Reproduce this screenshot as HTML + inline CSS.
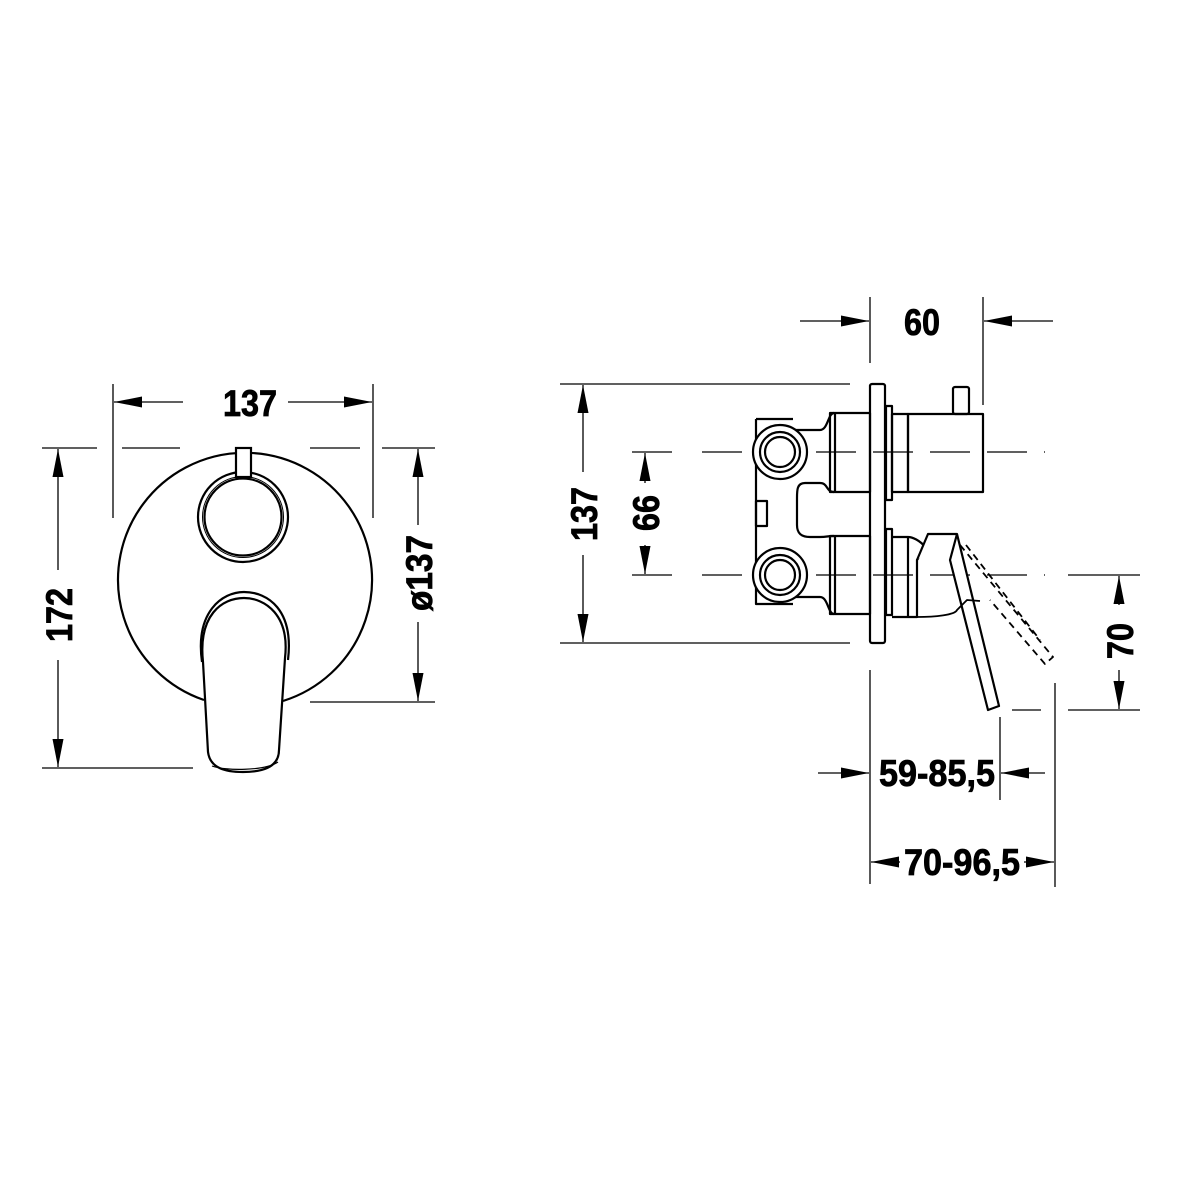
<!DOCTYPE html>
<html><head><meta charset="utf-8"><style>
html,body{margin:0;padding:0;background:#fff}
svg{display:block}
text{font-family:"Liberation Sans",sans-serif;font-weight:bold;fill:#000;stroke:#000;stroke-width:0.8}
</style></head><body>
<svg width="1200" height="1200" viewBox="0 0 1200 1200" xmlns="http://www.w3.org/2000/svg">
<defs>
<marker id="a" viewBox="0 0 28 12" refX="28" refY="6" markerWidth="28" markerHeight="12" markerUnits="userSpaceOnUse" orient="auto-start-reverse"><path d="M0,0.5 L28,6 L0,11.5z" fill="#000"/></marker>
</defs>
<g fill="none" stroke="#000" stroke-width="1.3">
<line x1="113" y1="384" x2="113" y2="518"/>
<line x1="373" y1="384" x2="373" y2="518"/>
<line x1="183" y1="402" x2="114" y2="402" marker-end="url(#a)"/>
<line x1="288" y1="402" x2="372" y2="402" marker-end="url(#a)"/>
<line x1="42" y1="448" x2="97" y2="448"/>
<line x1="122" y1="448" x2="180" y2="448"/>
<line x1="310" y1="448" x2="360" y2="448"/>
<line x1="382" y1="448" x2="435" y2="448"/>
<line x1="42" y1="768" x2="193" y2="768"/>
<line x1="310" y1="702" x2="435" y2="702"/>
<line x1="58" y1="570" x2="58" y2="449" marker-end="url(#a)"/>
<line x1="58" y1="660" x2="58" y2="767" marker-end="url(#a)"/>
<line x1="418" y1="525" x2="418" y2="449" marker-end="url(#a)"/>
<line x1="418" y1="622" x2="418" y2="701" marker-end="url(#a)"/>
</g>
<g fill="none" stroke="#000" stroke-width="2.2">
<path d="M204,700 A127,127 0 1 1 283,701"/>
<circle cx="243" cy="517" r="45"/>
<circle cx="243" cy="517" r="38.5"/>
<circle cx="243" cy="517" r="40.5" stroke-width="1"/>
<rect x="236" y="448" width="15" height="29" fill="#fff"/>
<path d="M202,662 C195,612 222,592 244,592 C268,592 294,610 288,660"/>
<path d="M203,662 L208,752 C210,768 225,772 243,772 C265,772 279,766 279,750 L285,658 C290,615 265,598 244,598 C222,598 198,615 203,662Z" fill="#fff"/>
<path d="M212,766 C225,771 265,771 278,762" stroke-width="1.2"/>
</g>
<text x="250" y="416" font-size="37" text-anchor="middle" textLength="54" lengthAdjust="spacingAndGlyphs">137</text>
<text transform="translate(72,615) rotate(-90)" font-size="37" text-anchor="middle" textLength="54" lengthAdjust="spacingAndGlyphs">172</text>
<text transform="translate(432,573) rotate(-90)" font-size="37" text-anchor="middle" textLength="76" lengthAdjust="spacingAndGlyphs">ø137</text>

<g fill="none" stroke="#000" stroke-width="1.3">
<line x1="870" y1="297" x2="870" y2="363"/>
<line x1="983" y1="297" x2="983" y2="405"/>
<line x1="800" y1="321" x2="869" y2="321" marker-end="url(#a)"/>
<line x1="1053" y1="321" x2="984" y2="321" marker-end="url(#a)"/>
<line x1="560" y1="384" x2="850" y2="384"/>
<line x1="560" y1="643" x2="850" y2="643"/>
<line x1="583" y1="472" x2="583" y2="385" marker-end="url(#a)"/>
<line x1="583" y1="555" x2="583" y2="642" marker-end="url(#a)"/>
<line x1="632" y1="452" x2="672" y2="452"/>
<line x1="632" y1="575" x2="672" y2="575"/>
<line x1="645" y1="483" x2="645" y2="453" marker-end="url(#a)"/>
<line x1="645" y1="545" x2="645" y2="574" marker-end="url(#a)"/>
<line x1="702" y1="452" x2="1045" y2="452" stroke-dasharray="40,17"/>
<line x1="702" y1="575" x2="1045" y2="575" stroke-dasharray="40,17"/>
<line x1="1068" y1="575" x2="1140" y2="575"/>
<line x1="1012" y1="710" x2="1041" y2="710"/>
<line x1="1068" y1="710" x2="1140" y2="710"/>
<line x1="1119" y1="605" x2="1119" y2="576" marker-end="url(#a)"/>
<line x1="1119" y1="670" x2="1119" y2="709" marker-end="url(#a)"/>
<line x1="870" y1="670" x2="870" y2="884"/>
<line x1="1000" y1="717" x2="1000" y2="800"/>
<line x1="1055" y1="683" x2="1055" y2="887"/>
<line x1="818" y1="773" x2="869" y2="773" marker-end="url(#a)"/>
<line x1="1045" y1="773" x2="1001" y2="773" marker-end="url(#a)"/>
<line x1="900" y1="862" x2="871" y2="862" marker-end="url(#a)"/>
<line x1="1024" y1="862" x2="1054" y2="862" marker-end="url(#a)"/>
</g>
<text x="922" y="335" font-size="37" text-anchor="middle" textLength="36" lengthAdjust="spacingAndGlyphs">60</text>
<text transform="translate(597,514) rotate(-90)" font-size="37" text-anchor="middle" textLength="54" lengthAdjust="spacingAndGlyphs">137</text>
<text transform="translate(659,513) rotate(-90)" font-size="37" text-anchor="middle" textLength="36" lengthAdjust="spacingAndGlyphs">66</text>
<text transform="translate(1133,641) rotate(-90)" font-size="37" text-anchor="middle" textLength="36" lengthAdjust="spacingAndGlyphs">70</text>
<text x="937" y="786" font-size="37" text-anchor="middle" textLength="116" lengthAdjust="spacingAndGlyphs">59-85,5</text>
<text x="962" y="875" font-size="37" text-anchor="middle" textLength="116" lengthAdjust="spacingAndGlyphs">70-96,5</text>

<g fill="none" stroke="#000" stroke-width="2.2" stroke-linejoin="round">
<path d="M756,419 L793,419 M756,419 L756,604 L793,604"/>
<rect x="756" y="501" width="11" height="25"/>
<path d="M795,430 L820,430 C828,430 828,413 834,413"/>
<path d="M834,492 C826,492 828,483 820,483 L805,483 C797,483 797,490 797,498 L797,525 C797,534 802,537 810,537 L820,537 C828,537 826,536 834,536"/>
<path d="M795,597 L820,597 C828,597 828,614 834,614"/>
<circle cx="780" cy="452" r="27" fill="#fff"/>
<circle cx="780" cy="452" r="20"/>
<circle cx="780" cy="452" r="15"/>
<circle cx="780" cy="575" r="27" fill="#fff"/>
<circle cx="780" cy="575" r="20"/>
<circle cx="780" cy="575" r="15"/>
<rect x="830" y="413" width="40" height="79"/>
<line x1="835" y1="413" x2="835" y2="492"/>
<rect x="830" y="536" width="40" height="78"/>
<line x1="835" y1="536" x2="835" y2="614"/>
<rect x="870" y="384" width="15" height="259" rx="2"/>
<rect x="886" y="406" width="6" height="94"/>
<rect x="886" y="529" width="6" height="86"/>
<rect x="892" y="414" width="16" height="78"/>
<rect x="908" y="414" width="75" height="78"/>
<rect x="953" y="387" width="16" height="27" rx="2"/>
<path d="M892,537 L908,537 C912,537 920,540 926,548 L917,560 L917,617 L892,617"/>
<line x1="908" y1="537" x2="908" y2="617"/>
<path d="M917,560 L928,534 L957,534 L999,706 L988,710 L950,560 L957,534" fill="#fff"/>
<path d="M917,617 C935,617 955,615 957,610 L967,600 L980,601" stroke-width="1.8"/>
<path d="M960,545 L1053,657 L1045,664 L990,600 M966,545 L1040,640" stroke-dasharray="7,5" stroke-width="1.8"/>
</g>
</svg>
</body></html>
